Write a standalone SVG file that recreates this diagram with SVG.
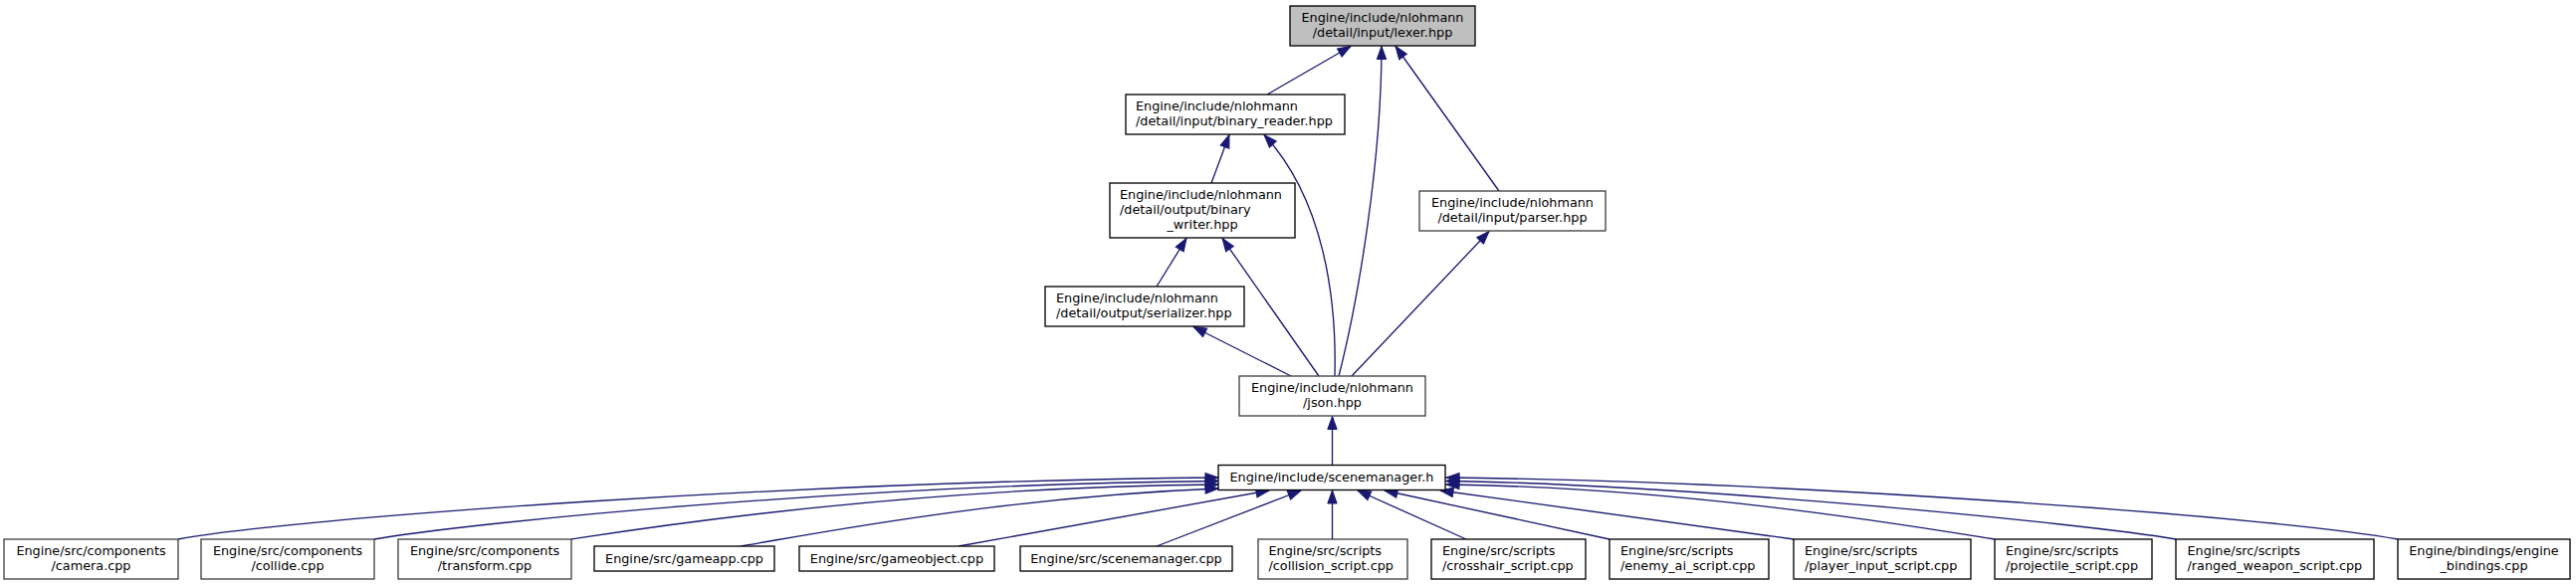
<svg xmlns="http://www.w3.org/2000/svg" width="2588" height="588" viewBox="0 0 2588 588">
<style>
  .box { fill: #ffffff; stroke: #000000; stroke-width: 1.33; }
  .boxg { fill: #ffffff; stroke: #404040; stroke-width: 1.33; }
  .root { fill: #bfbfbf; stroke: #000000; stroke-width: 1.33; }
  text { font-family: "DejaVu Sans", "Liberation Sans", sans-serif; font-size: 12.8px; fill: #000000; }
  .c { text-anchor: middle; }
  .l { text-anchor: start; }
  .e { fill: none; stroke: #191970; stroke-width: 1.33; marker-end: url(#arr); }
</style>
<defs>
  <marker id="arr" markerUnits="userSpaceOnUse" markerWidth="16" markerHeight="12" refX="13" refY="5" orient="auto" overflow="visible">
    <path d="M0,0.3 L13,5 L0,9.7 Z" fill="#191970" stroke="#191970" stroke-width="1"/>
  </marker>
</defs>
<rect width="2588" height="588" fill="#ffffff"/>

<g id="edges">
  <path class="e" d="M1273,95 L1357,46.5"/>
  <path class="e" d="M1345,378 C1365,300 1388,160 1388,46.5"/>
  <path class="e" d="M1506,192 L1402,46.5"/>
  <path class="e" d="M1217,184 L1235,135.5"/>
  <path class="e" d="M1341,378 C1343,300 1330,200 1270,135.5"/>
  <path class="e" d="M1162,288 L1192,239.5"/>
  <path class="e" d="M1325,378 L1228,239.5"/>
  <path class="e" d="M1297,378 L1199,328.5"/>
  <path class="e" d="M1358,378 L1496,232.5"/>
  <path class="e" d="M1338.5,467.5 L1338.5,418.5"/>
  <path class="e" d="M1338.5,542 L1338.5,493"/>
  <path class="e" d="M1473,542 L1364,493"/>
  <path class="e" d="M1617,542 L1391,493"/>
  <path class="e" d="M1802,542 L1447,493"/>
  <path class="e" d="M2004,542 C1940,532 1700,490 1453,487"/>
  <path class="e" d="M2186,542 C2100,527 1700,487 1453,483.5"/>
  <path class="e" d="M2409,542 C2290,520 1800,484 1453,480"/>
  <path class="e" d="M179,542 C300,520 800,484 1224,480"/>
  <path class="e" d="M376,542 C460,527 850,487 1224,483.5"/>
  <path class="e" d="M574,542 C640,532 900,490 1224,487"/>
  <path class="e" d="M744,549 C800,540 1000,500 1224,491"/>
  <path class="e" d="M963,549 L1275,493"/>
  <path class="e" d="M1162,549 L1307,493"/>
</g>

<g id="lexer">
  <rect class="root" x="1296" y="6" width="186" height="40"/>
  <text class="c" x="1389" y="21.5">Engine/include/nlohmann</text>
  <text class="c" x="1389" y="36.5">/detail/input/lexer.hpp</text>
</g>
<g id="binary_reader">
  <rect class="box" x="1131" y="95" width="220" height="40"/>
  <text class="l" x="1141" y="110.5">Engine/include/nlohmann</text>
  <text class="l" x="1141" y="125.5">/detail/input/binary_reader.hpp</text>
</g>
<g id="binary_writer">
  <rect class="box" x="1115" y="184" width="186" height="55"/>
  <text class="l" x="1125" y="200">Engine/include/nlohmann</text>
  <text class="l" x="1125" y="215">/detail/output/binary</text>
  <text class="c" x="1208" y="230">_writer.hpp</text>
</g>
<g id="parser">
  <rect class="boxg" x="1426" y="192" width="187" height="40"/>
  <text class="c" x="1519.5" y="207.5">Engine/include/nlohmann</text>
  <text class="c" x="1519.5" y="222.5">/detail/input/parser.hpp</text>
</g>
<g id="serializer">
  <rect class="box" x="1050" y="288" width="200" height="40"/>
  <text class="l" x="1061" y="303.5">Engine/include/nlohmann</text>
  <text class="l" x="1061" y="318.5">/detail/output/serializer.hpp</text>
</g>
<g id="json">
  <rect class="boxg" x="1245" y="378" width="187" height="40"/>
  <text class="c" x="1338.5" y="393.5">Engine/include/nlohmann</text>
  <text class="c" x="1338.5" y="408.5">/json.hpp</text>
</g>
<g id="scenemanager_h">
  <rect class="box" x="1224" y="467.5" width="228" height="25"/>
  <text class="c" x="1338" y="484">Engine/include/scenemanager.h</text>
</g>

<g id="camera">
  <rect class="boxg" x="4" y="542" width="175" height="40"/>
  <text class="c" x="91.5" y="557.5">Engine/src/components</text>
  <text class="c" x="91.5" y="572.5">/camera.cpp</text>
</g>
<g id="collide">
  <rect class="boxg" x="202" y="542" width="174" height="40"/>
  <text class="c" x="289" y="557.5">Engine/src/components</text>
  <text class="c" x="289" y="572.5">/collide.cpp</text>
</g>
<g id="transform">
  <rect class="boxg" x="400" y="542" width="174" height="40"/>
  <text class="c" x="487" y="557.5">Engine/src/components</text>
  <text class="c" x="487" y="572.5">/transform.cpp</text>
</g>
<g id="gameapp">
  <rect class="box" x="597" y="549" width="181" height="25"/>
  <text class="c" x="687.5" y="565.5">Engine/src/gameapp.cpp</text>
</g>
<g id="gameobject">
  <rect class="box" x="803" y="549" width="196" height="25"/>
  <text class="c" x="901" y="565.5">Engine/src/gameobject.cpp</text>
</g>
<g id="scenemanager_cpp">
  <rect class="box" x="1025" y="549" width="213" height="25"/>
  <text class="c" x="1131.5" y="565.5">Engine/src/scenemanager.cpp</text>
</g>
<g id="collision_script">
  <rect class="boxg" x="1264" y="542" width="150" height="40"/>
  <text class="l" x="1274.5" y="557.5">Engine/src/scripts</text>
  <text class="l" x="1274.5" y="572.5">/collision_script.cpp</text>
</g>
<g id="crosshair_script">
  <rect class="box" x="1438" y="542" width="155" height="40"/>
  <text class="l" x="1449" y="557.5">Engine/src/scripts</text>
  <text class="l" x="1449" y="572.5">/crosshair_script.cpp</text>
</g>
<g id="enemy_ai_script">
  <rect class="box" x="1617" y="542" width="160" height="40"/>
  <text class="l" x="1628" y="557.5">Engine/src/scripts</text>
  <text class="l" x="1628" y="572.5">/enemy_ai_script.cpp</text>
</g>
<g id="player_input_script">
  <rect class="box" x="1802" y="542" width="178" height="40"/>
  <text class="l" x="1813" y="557.5">Engine/src/scripts</text>
  <text class="l" x="1813" y="572.5">/player_input_script.cpp</text>
</g>
<g id="projectile_script">
  <rect class="box" x="2004" y="542" width="158" height="40"/>
  <text class="l" x="2015" y="557.5">Engine/src/scripts</text>
  <text class="l" x="2015" y="572.5">/projectile_script.cpp</text>
</g>
<g id="ranged_weapon_script">
  <rect class="box" x="2186" y="542" width="199" height="40"/>
  <text class="l" x="2197.5" y="557.5">Engine/src/scripts</text>
  <text class="l" x="2197.5" y="572.5">/ranged_weapon_script.cpp</text>
</g>
<g id="engine_bindings">
  <rect class="box" x="2409" y="542" width="173" height="40"/>
  <text class="c" x="2495.5" y="557.5">Engine/bindings/engine</text>
  <text class="c" x="2495.5" y="572.5">_bindings.cpp</text>
</g>
</svg>
